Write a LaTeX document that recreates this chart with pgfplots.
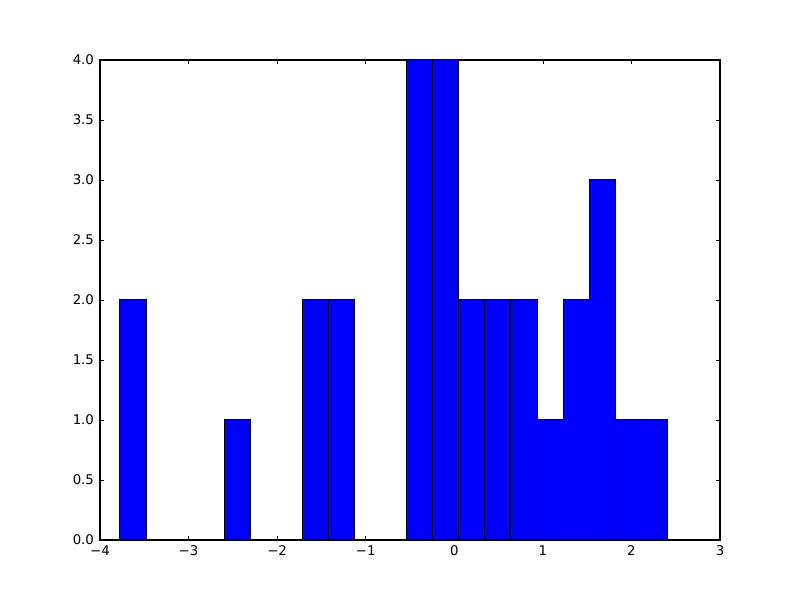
\documentclass[border=0pt]{standalone}
\usepackage{fontspec}
\setmainfont{DejaVu Sans}
\usepackage{pgfplots}
\pgfplotsset{compat=1.18}
\begin{document}
\begin{tikzpicture}
\begin{axis}[
  at={(0,0)}, anchor=south west,
  scale only axis, width=465pt, height=360pt,
  xmin=-4, xmax=3, ymin=0, ymax=4,
  xtick={-4,-3,-2,-1,0,1,2,3},
  xticklabels={−4,−3,−2,−1,0,1,2,3},
  ytick={0,0.5,1,1.5,2,2.5,3,3.5,4},
  yticklabels={0.0,0.5,1.0,1.5,2.0,2.5,3.0,3.5,4.0},
  tick align=inside,
  major tick length=3.3pt,
  minor tick num=0,
  tick style={black, line width=0.5pt},
  axis line style={black, line width=0.8pt},
  ticklabel style={font=\fontsize{10}{12}\selectfont},
  xticklabel style={yshift=-1pt},
  yticklabel style={xshift=-1pt},
]
\addplot[ybar interval, fill={rgb,1:red,0;green,0;blue,1}, draw=black, line width=0.75pt] coordinates {
(-3.7742,2) (-3.4799,0) (-3.1857,0) (-2.8914,0) (-2.5972,1) (-2.3029,0)
(-2.0086,0) (-1.7144,2) (-1.4201,2) (-1.1259,0) (-0.8316,0) (-0.5373,4)
(-0.2431,4) (0.0512,2) (0.3454,2) (0.6397,2) (0.9340,1) (1.2282,2)
(1.5225,3) (1.8167,1) (2.1110,1) (2.4052,1)
};
\end{axis}
\path (-75pt,-45pt) rectangle (525pt,405pt);
\end{tikzpicture}
\end{document}
